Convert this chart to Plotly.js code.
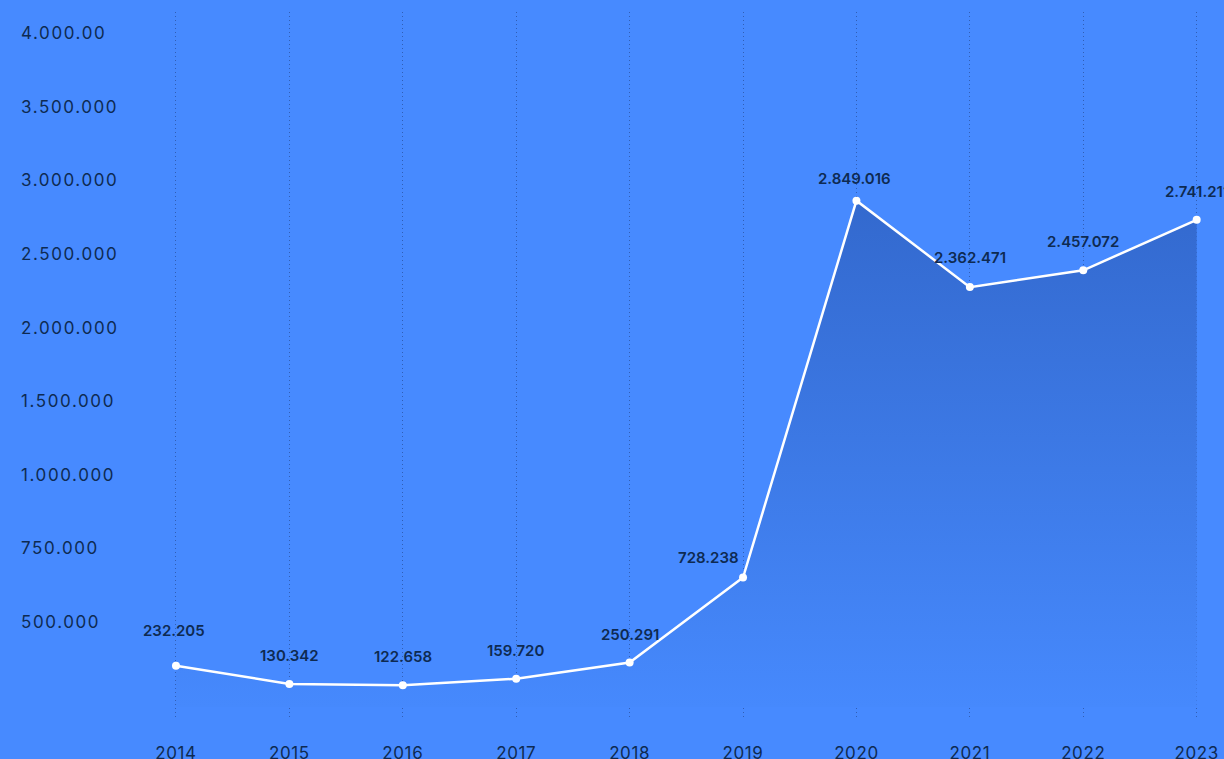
<!DOCTYPE html>
<html>
<head>
<meta charset="utf-8">
<script src="https://cdn.plot.ly/plotly-3.0.1.min.js"></script>
<style>
  html, body { margin: 0; padding: 0; background: #478AFF; overflow: hidden; }
  #chart { width: 1224px; height: 759px; }
  #chart .y2tick text { letter-spacing: 1.6px; }
  #chart .xtick text { letter-spacing: 0.6px; }
</style>
</head>
<body>
<div id="chart"></div>
<script>
// ---- data ----
const years = [2014, 2015, 2016, 2017, 2018, 2019, 2020, 2021, 2022, 2023];
const values = [232205, 130342, 122658, 159720, 250291, 728238, 2849016, 2362471, 2457072, 2741211];
const yTickLabels = ["500.000", "750.000", "1.000.000", "1.500.000", "2.000.000", "2.500.000", "3.000.000", "3.500.000", "4.000.00"];

// ---- label placement (pixels) ----
const labelShiftY = [35, 28, 29, 28, 28, 20, 22, 30, 29, 28];
const labelShiftX = [-2, 0, 0, -1, 0, -35, -2, 0, 0, 0];

function fmt(n) {
  return String(n).replace(/\B(?=(\d{3})+(?!\d))/g, ".");
}

const textColor = "#0E2A52";
const font = "Inter, 'DejaVu Sans', sans-serif";

const area = {
  x: years,
  y: values,
  type: "scatter",
  mode: "lines+markers",
  fill: "tozeroy",
  fillgradient: {
    type: "vertical",
    colorscale: [[0, "#4689FD"], [1, "#3369CE"]]
  },
  line: { color: "#FFFFFF", width: 2.5 },
  marker: { color: "#FFFFFF", size: 8 },
  hoverinfo: "skip",
  cliponaxis: false
};

// invisible trace to carry the tick-label axis
const tickCarrier = {
  x: [years[0]],
  y: [0],
  yaxis: "y2",
  type: "scatter",
  mode: "markers",
  marker: { opacity: 0 },
  hoverinfo: "skip",
  showlegend: false
};

const annotations = years.map((yr, i) => ({
  x: yr,
  y: values[i],
  xref: "x",
  yref: "y",
  text: fmt(values[i]),
  showarrow: false,
  xanchor: "center",
  yanchor: "middle",
  yshift: labelShiftY[i],
  xshift: labelShiftX[i],
  font: { family: font, size: 15, color: textColor, weight: 600 }
}));

const layout = {
  width: 1224,
  height: 759,
  margin: { l: 18, r: 0, t: 12, b: 41 },
  paper_bgcolor: "#478AFF",
  plot_bgcolor: "#478AFF",
  showlegend: false,
  xaxis: {
    range: [2012.607, 2023.241],
    tickvals: years,
    ticktext: years.map(String),
    showgrid: true,
    gridcolor: "rgba(20,40,90,0.45)",
    griddash: "1px,3px",
    gridwidth: 1,
    zeroline: false,
    showline: false,
    ticks: "",
    ticklabelstandoff: 23,
    tickfont: { family: font, size: 17, color: textColor }
  },
  yaxis: {
    range: [-61600, 3910300],
    showgrid: false,
    zeroline: false,
    showline: false,
    showticklabels: false,
    ticks: ""
  },
  yaxis2: {
    overlaying: "y",
    side: "left",
    range: [-1.303, 8.289],
    tickvals: yTickLabels.map((_, i) => i),
    ticktext: yTickLabels,
    ticklabelposition: "inside",
    showgrid: false,
    zeroline: false,
    showline: false,
    ticks: "",
    tickfont: { family: font, size: 17, color: textColor }
  },
  annotations: annotations
};

Plotly.newPlot("chart", [area, tickCarrier], layout, { displayModeBar: false, staticPlot: true });
</script>
</body>
</html>
